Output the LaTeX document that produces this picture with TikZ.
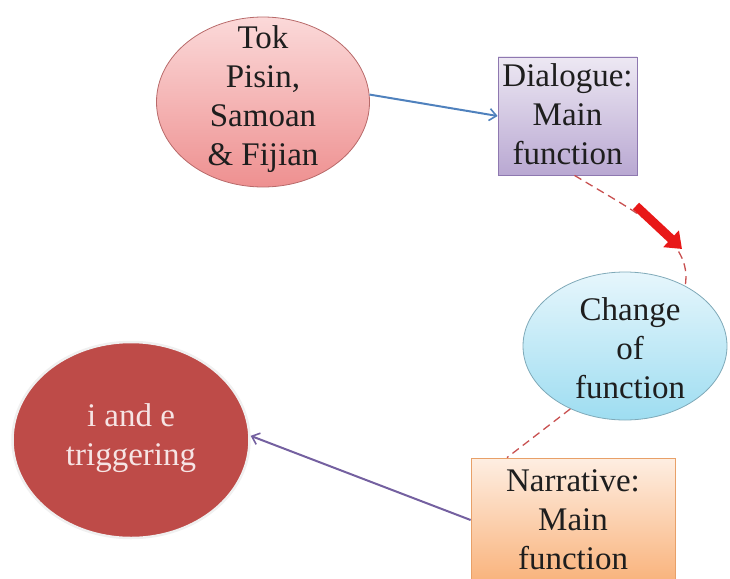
\documentclass[tikz,border=0pt]{standalone}
\usepackage{fontspec}
\setmainfont{Liberation Serif}
\newfontfamily\labelfont{Liberation Serif}
\usetikzlibrary{shapes.geometric,arrows.meta}
\definecolor{pinktop}{HTML}{FBD9D9}
\definecolor{pinkbot}{HTML}{EE9090}
\definecolor{pinkline}{HTML}{B86A6A}
\definecolor{lilactop}{HTML}{EDE8F3}
\definecolor{lilacbot}{HTML}{B9A8D2}
\definecolor{lilacline}{HTML}{8E78B0}
\definecolor{skytop}{HTML}{E6F6FC}
\definecolor{skybot}{HTML}{9EDDF1}
\definecolor{skyline}{HTML}{7FA9B8}
\definecolor{peachtop}{HTML}{FEEEE2}
\definecolor{peachbot}{HTML}{F9B37C}
\definecolor{peachline}{HTML}{E8A068}
\definecolor{brick}{HTML}{BE4B48}
\definecolor{textdark}{HTML}{1E1E1E}
\definecolor{textlight}{HTML}{F6E4E4}
\definecolor{linkblue}{HTML}{4F81BD}
\definecolor{linkpurple}{HTML}{7460A0}
\definecolor{dashred}{HTML}{C85050}
\definecolor{blockred}{HTML}{E81818}
\begin{document}
\begin{tikzpicture}[x=1pt,y=-1pt,
  bubble/.style={ellipse, inner sep=0pt},
  panel/.style={rectangle, inner sep=0pt},
  lbl/.style={align=center, inner sep=0pt, text=textdark,
    font=\labelfont\fontsize{33}{39}\selectfont},
  solidlink/.style={line width=2pt, -{Straight Barb[length=7pt,width=12pt,line width=1.6pt]}},
  dashlink/.style={draw=dashred, line width=1.3pt, dash pattern=on 8pt off 5pt},
  blockarrow/.style={draw=blockred, line width=9pt, -{Triangle[length=15pt,width=22pt]}}
]
\useasboundingbox (0,0) rectangle (730,578);

% shapes
\node[bubble, minimum width=213pt, minimum height=170pt,
  top color=pinktop, bottom color=pinkbot, draw=pinkline, line width=0.8pt] (tok) at (263,102) {};
\node[panel, minimum width=139pt, minimum height=118pt,
  top color=lilactop, bottom color=lilacbot, draw=lilacline, line width=0.8pt] (dlg) at (567.5,116) {};
\node[bubble, minimum width=204pt, minimum height=148pt,
  top color=skytop, bottom color=skybot, draw=skyline, line width=0.8pt] (chg) at (625,346) {};
\node[panel, minimum width=204pt, minimum height=124pt,
  top color=peachtop, bottom color=peachbot, draw=peachline, line width=0.8pt] (nar) at (573,520) {};
\node[bubble, minimum width=237pt, minimum height=196pt,
  fill=brick, draw=white!88!gray, line width=2.5pt] (trg) at (131,440) {};

% texts
\node[lbl] (toktxt) at (263,99) {Tok\\Pisin,\\Samoan\\\& Fijian};
\node[lbl] (dlgtxt) at (567.5,114) {Dialogue:\\Main\\function};
\node[lbl] (chgtxt) at (630,348) {Change\\of\\function};
\node[lbl] (nartxt) at (573,520) {Narrative:\\Main\\function};
\node[lbl, text=textlight] (trgtxt) at (131,438) {i and e\\triggering};

% connectors
\draw[solidlink, draw=linkblue] (tok.4) -- (dlg.west);
\draw[dashlink] ([xshift=7pt]dlg.south) .. controls (640,215) and (693,240) .. (chg.45);
\draw[blockarrow] (636,206) -- (682,249);
\draw[dashlink] (chg.229) -- ([xshift=-66pt]nar.north);
\draw[solidlink, draw=linkpurple] (nar.west) -- (trg.2);
\end{tikzpicture}
\end{document}
